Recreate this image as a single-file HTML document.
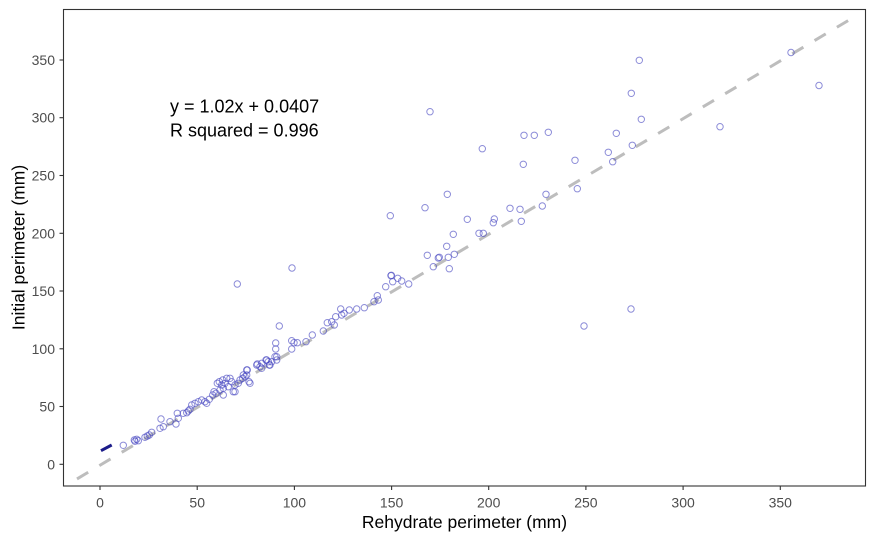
<!DOCTYPE html>
<html><head><meta charset="utf-8"><style>
html,body{margin:0;padding:0;background:#fff;}
svg{display:block;}
text{font-family:"Liberation Sans",Arial,sans-serif;}
</style></head><body>
<svg width="870" height="536" viewBox="0 0 870 536" xmlns="http://www.w3.org/2000/svg">
<rect x="0" y="0" width="870" height="536" fill="#fff"/>
<defs><clipPath id="pc"><rect x="63.5" y="9.5" width="802" height="476.5"/></clipPath></defs>
<g clip-path="url(#pc)">
<line x1="77" y1="478.9" x2="857.7" y2="14.9" stroke="#bdbdbd" stroke-width="3" stroke-dasharray="13 13"/>
<line x1="101" y1="450.7" x2="111.7" y2="445" stroke="#1c1c8a" stroke-width="3"/>
<g fill="none" stroke="#4646c0" stroke-opacity="0.62" stroke-width="1">
<circle cx="123.3" cy="445.3" r="3.2"/>
<circle cx="134.3" cy="440" r="3.2"/><circle cx="136.7" cy="439.3" r="3.2"/><circle cx="135" cy="441.3" r="3.2"/><circle cx="138.3" cy="440.7" r="3.2"/>
<circle cx="145" cy="437.3" r="3.2"/><circle cx="147.3" cy="436" r="3.2"/><circle cx="149.3" cy="435" r="3.2"/><circle cx="151.7" cy="432.3" r="3.2"/>
<circle cx="161" cy="419" r="3.2"/><circle cx="160" cy="428.3" r="3.2"/><circle cx="163.3" cy="426.7" r="3.2"/><circle cx="170" cy="421.7" r="3.2"/><circle cx="176" cy="424" r="3.2"/><circle cx="178.3" cy="418.3" r="3.2"/><circle cx="177.3" cy="413.3" r="3.2"/>
<circle cx="183.3" cy="413.3" r="3.2"/><circle cx="188.3" cy="411" r="3.2"/><circle cx="191.7" cy="405" r="3.2"/><circle cx="195" cy="403.3" r="3.2"/><circle cx="198.3" cy="401.7" r="3.2"/><circle cx="201.7" cy="400" r="3.2"/><circle cx="205" cy="401.7" r="3.2"/><circle cx="206.7" cy="403.3" r="3.2"/><circle cx="209.3" cy="399.3" r="3.2"/><circle cx="212.7" cy="395" r="3.2"/><circle cx="214" cy="391.7" r="3.2"/><circle cx="216" cy="393.3" r="3.2"/><circle cx="217.3" cy="383.3" r="3.2"/><circle cx="219.3" cy="381.7" r="3.2"/><circle cx="221.7" cy="385" r="3.2"/><circle cx="223.3" cy="388.3" r="3.2"/><circle cx="225" cy="383.3" r="3.2"/><circle cx="226.7" cy="378.3" r="3.2"/><circle cx="222.7" cy="380" r="3.2"/><circle cx="228.3" cy="386.7" r="3.2"/><circle cx="233.3" cy="391.7" r="3.2"/><circle cx="235" cy="385" r="3.2"/><circle cx="238.3" cy="383.3" r="3.2"/><circle cx="240" cy="380" r="3.2"/><circle cx="242.7" cy="378.3" r="3.2"/><circle cx="245" cy="376.7" r="3.2"/><circle cx="249" cy="381.7" r="3.2"/><circle cx="246.7" cy="375" r="3.2"/><circle cx="256.7" cy="365" r="3.2"/><circle cx="260" cy="366.7" r="3.2"/><circle cx="261.7" cy="363.3" r="3.2"/><circle cx="268.3" cy="361.7" r="3.2"/><circle cx="270" cy="365" r="3.2"/><circle cx="275" cy="356.7" r="3.2"/><circle cx="276.7" cy="360" r="3.2"/><circle cx="220" cy="390" r="3.2"/><circle cx="230" cy="378.3" r="3.2"/>
<circle cx="186.7" cy="412.7" r="3.2"/><circle cx="190" cy="409.3" r="3.2"/><circle cx="223.3" cy="395" r="3.2"/><circle cx="235" cy="391.7" r="3.2"/><circle cx="231.7" cy="381.7" r="3.2"/><circle cx="243.3" cy="375" r="3.2"/><circle cx="246.7" cy="370" r="3.2"/><circle cx="250" cy="383.3" r="3.2"/><circle cx="266" cy="360" r="3.2"/>
<circle cx="247.3" cy="370" r="3.2"/><circle cx="257.3" cy="364" r="3.2"/><circle cx="261.7" cy="368.3" r="3.2"/><circle cx="266.7" cy="360" r="3.2"/><circle cx="269.3" cy="365" r="3.2"/><circle cx="271.7" cy="361.7" r="3.2"/><circle cx="276.7" cy="356.7" r="3.2"/>
<circle cx="237.3" cy="284" r="3.2"/><circle cx="292" cy="268" r="3.2"/><circle cx="279.3" cy="326" r="3.2"/><circle cx="275.7" cy="343" r="3.2"/><circle cx="275.7" cy="349" r="3.2"/><circle cx="291.7" cy="340.7" r="3.2"/><circle cx="294" cy="342.7" r="3.2"/><circle cx="297.3" cy="342.7" r="3.2"/><circle cx="291.7" cy="349" r="3.2"/><circle cx="306" cy="341.7" r="3.2"/><circle cx="312.3" cy="335" r="3.2"/><circle cx="323.3" cy="331" r="3.2"/><circle cx="327.3" cy="322.7" r="3.2"/><circle cx="331.7" cy="321.7" r="3.2"/><circle cx="334.3" cy="325" r="3.2"/><circle cx="335.7" cy="316.7" r="3.2"/><circle cx="340.7" cy="309" r="3.2"/><circle cx="341.7" cy="315" r="3.2"/><circle cx="344" cy="313.3" r="3.2"/><circle cx="349.3" cy="310" r="3.2"/><circle cx="356.7" cy="309" r="3.2"/><circle cx="364.3" cy="307.7" r="3.2"/><circle cx="374" cy="301.7" r="3.2"/><circle cx="377.3" cy="295.7" r="3.2"/><circle cx="378.3" cy="300" r="3.2"/><circle cx="385.7" cy="286.7" r="3.2"/><circle cx="391" cy="275.7" r="3.2"/><circle cx="392.7" cy="281.7" r="3.2"/><circle cx="397.7" cy="278.3" r="3.2"/><circle cx="401.7" cy="281" r="3.2"/><circle cx="408.7" cy="284" r="3.2"/>
<circle cx="390.3" cy="215.7" r="3.2"/><circle cx="391.3" cy="275.3" r="3.2"/>
<circle cx="430" cy="111.7" r="3.2"/><circle cx="524" cy="135.3" r="3.2"/><circle cx="534.3" cy="135.3" r="3.2"/><circle cx="548.3" cy="132.3" r="3.2"/><circle cx="482.3" cy="148.7" r="3.2"/><circle cx="523.3" cy="164.3" r="3.2"/><circle cx="575" cy="160.3" r="3.2"/><circle cx="577.3" cy="188.7" r="3.2"/><circle cx="546" cy="194.3" r="3.2"/><circle cx="542.3" cy="206" r="3.2"/><circle cx="447.3" cy="194.3" r="3.2"/><circle cx="425" cy="207.7" r="3.2"/><circle cx="510" cy="208.3" r="3.2"/><circle cx="520" cy="209.3" r="3.2"/><circle cx="521.3" cy="221.3" r="3.2"/><circle cx="467.3" cy="219.3" r="3.2"/><circle cx="494.3" cy="219" r="3.2"/><circle cx="493.3" cy="222.7" r="3.2"/><circle cx="453.3" cy="234.3" r="3.2"/><circle cx="479" cy="233.3" r="3.2"/><circle cx="483.3" cy="233.3" r="3.2"/><circle cx="446.7" cy="246.3" r="3.2"/><circle cx="427.3" cy="255.3" r="3.2"/><circle cx="439.3" cy="257.3" r="3.2"/><circle cx="448.3" cy="257.3" r="3.2"/><circle cx="454.3" cy="254.3" r="3.2"/><circle cx="433.3" cy="266.7" r="3.2"/><circle cx="449.3" cy="268.7" r="3.2"/><circle cx="438.3" cy="258" r="3.2"/>
<circle cx="639.3" cy="60.3" r="3.2"/><circle cx="631.3" cy="93.3" r="3.2"/><circle cx="641.3" cy="119.3" r="3.2"/><circle cx="616.3" cy="133.3" r="3.2"/><circle cx="632.3" cy="145.3" r="3.2"/><circle cx="608.3" cy="152.3" r="3.2"/><circle cx="612.7" cy="161.7" r="3.2"/><circle cx="720" cy="126.7" r="3.2"/>
<circle cx="819" cy="85.5" r="3.2"/><circle cx="791" cy="52.5" r="3.2"/><circle cx="631" cy="309" r="3.2"/><circle cx="584" cy="326" r="3.2"/>
</g>
</g>
<rect x="63.5" y="9.5" width="802" height="476.5" fill="none" stroke="#333" stroke-width="1.1"/>
<g stroke="#333" stroke-width="1.1">
<line x1="59.5" y1="464.3" x2="63.5" y2="464.3"/><line x1="59.5" y1="406.5" x2="63.5" y2="406.5"/><line x1="59.5" y1="348.8" x2="63.5" y2="348.8"/><line x1="59.5" y1="291" x2="63.5" y2="291"/><line x1="59.5" y1="233.3" x2="63.5" y2="233.3"/><line x1="59.5" y1="175.5" x2="63.5" y2="175.5"/><line x1="59.5" y1="117.7" x2="63.5" y2="117.7"/><line x1="59.5" y1="60" x2="63.5" y2="60"/>
<line x1="100" y1="486" x2="100" y2="490"/><line x1="197.2" y1="486" x2="197.2" y2="490"/><line x1="294.4" y1="486" x2="294.4" y2="490"/><line x1="391.6" y1="486" x2="391.6" y2="490"/><line x1="488.7" y1="486" x2="488.7" y2="490"/><line x1="585.9" y1="486" x2="585.9" y2="490"/><line x1="683.1" y1="486" x2="683.1" y2="490"/><line x1="780.3" y1="486" x2="780.3" y2="490"/>
</g>
<g font-size="14" fill="#4d4d4d" text-anchor="end">
<text x="55" y="469.3">0</text><text x="55" y="411.5">50</text><text x="55" y="353.8">100</text><text x="55" y="296">150</text><text x="55" y="238.3">200</text><text x="55" y="180.5">250</text><text x="55" y="122.7">300</text><text x="55" y="65">350</text>
</g>
<g font-size="14" fill="#4d4d4d" text-anchor="middle">
<text x="100" y="507.7">0</text><text x="197.2" y="507.7">50</text><text x="294.4" y="507.7">100</text><text x="391.6" y="507.7">150</text><text x="488.7" y="507.7">200</text><text x="585.9" y="507.7">250</text><text x="683.1" y="507.7">300</text><text x="780.3" y="507.7">350</text>
</g>
<text x="464.5" y="528" font-size="17.5" fill="#000" text-anchor="middle">Rehydrate perimeter (mm)</text>
<text transform="translate(24.5,247.5) rotate(-90)" font-size="17.5" fill="#000" text-anchor="middle">Initial perimeter (mm)</text>
<text x="170" y="112.7" font-size="18" fill="#000">y = 1.02x + 0.0407</text>
<text x="170" y="136.7" font-size="18" fill="#000">R squared = 0.996</text>
</svg>
</body></html>
